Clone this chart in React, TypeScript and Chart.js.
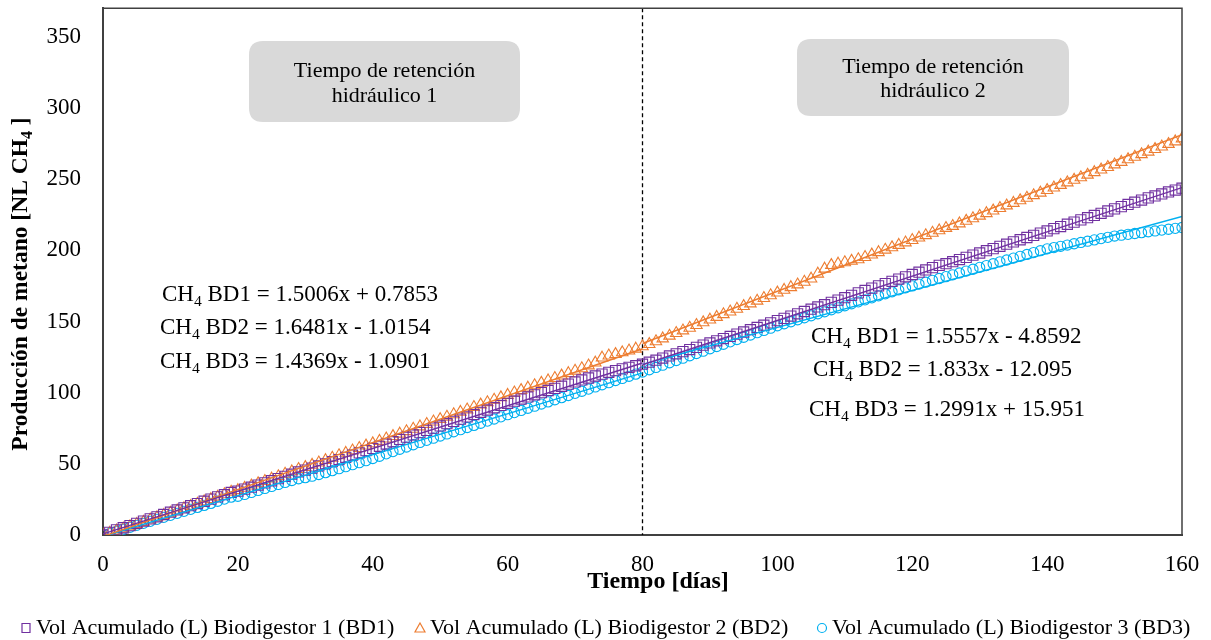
import React, { useEffect, useRef } from "react";
import { Chart, registerables } from "chart.js";

Chart.register(...registerables);

// ---------- DATA ----------
const DAYS: number[] = Array.from({ length: 161 }, (_, i) => i);

const BD1: number[] = [
  0, 1.9, 3.6, 5.1, 6.6, 8.2, 9.8, 11.3, 12.8, 14.4,
  16.0, 17.6, 19.1, 20.6, 22.1, 23.7, 25.2, 26.8, 28.3, 29.9,
  30.8, 32.2, 33.6, 35.1, 36.6, 38.1, 39.6, 41.2, 42.7, 44.3,
  45.6, 47.0, 48.5, 50.0, 51.5, 53.0, 54.6, 56.1, 57.7, 59.3,
  60.8, 62.3, 63.9, 65.5, 67.1, 68.7, 70.3, 71.9, 73.5, 75.1,
  76.6, 78.2, 79.8, 81.4, 83.0, 84.6, 86.2, 87.8, 89.4, 91.0,
  92.5, 94.0, 95.5, 97.0, 98.5, 100.0, 101.5, 103.0, 104.5, 106.0,
  107.5, 108.9, 110.3, 111.7, 113.0, 114.3, 115.5, 116.7, 117.8, 118.9,
  120.0, 121.4, 122.8, 124.3, 125.8, 127.3, 128.8, 130.3, 131.8, 133.4,
  134.9, 136.4, 138.0, 139.5, 141.1, 142.6, 144.2, 145.8, 147.4, 149.0,
  150.6, 152.2, 153.8, 155.4, 157.0, 158.6, 160.2, 161.8, 163.4, 165.0,
  166.7, 168.4, 170.1, 171.8, 173.4, 175.0, 176.6, 178.2, 179.8, 181.4,
  183.0, 184.6, 186.2, 187.8, 189.4, 190.6, 192.0, 193.5, 195.0, 196.6,
  198.1, 199.7, 201.2, 202.8, 204.3, 205.9, 207.4, 209.0, 210.5, 212.1,
  213.6, 215.2, 216.7, 218.3, 219.8, 221.4, 222.9, 224.5, 226.0, 227.6,
  229.1, 230.7, 232.2, 233.8, 235.3, 236.8, 238.2, 239.6, 241.0, 242.3,
  243.6,
];

const BD2: number[] = [
  0, 1.5, 3.0, 4.5, 6.0, 7.6, 9.1, 10.7, 12.3, 13.9,
  15.5, 17.1, 18.7, 20.3, 21.9, 23.5, 25.1, 26.8, 28.5, 30.3,
  31.4, 33.0, 34.6, 36.2, 37.8, 39.5, 41.2, 42.9, 44.6, 46.3,
  47.6, 49.2, 50.8, 52.5, 54.2, 55.9, 57.6, 59.3, 61.0, 62.7,
  64.3, 66.0, 67.7, 69.4, 71.1, 72.8, 74.5, 76.2, 77.9, 79.6,
  81.3, 83.0, 84.7, 86.4, 88.1, 89.8, 91.5, 93.2, 94.9, 96.6,
  98.3, 100.0, 101.7, 103.4, 105.1, 106.8, 108.5, 110.2, 111.9, 113.6,
  115.3, 117.0, 119.0, 121.0, 124.5, 126.0, 127.0, 128.2, 129.5, 130.8,
  132.5, 134.0, 136.0, 138.0, 139.9, 141.8, 143.6, 145.5, 147.4, 149.3,
  151.2, 153.1, 155.0, 156.9, 158.8, 160.7, 162.6, 164.5, 166.4, 168.3,
  170.2, 172.1, 174.0, 175.9, 177.8, 180.0, 183.5, 187.0, 189.5, 190.5,
  191.5, 192.5, 193.6, 195.2, 196.9, 198.6, 200.3, 202.0, 203.7, 205.4,
  207.1, 208.8, 210.5, 212.2, 213.9, 215.6, 217.0, 218.8, 220.6, 222.4,
  224.2, 226.0, 227.8, 229.6, 231.4, 233.2, 235.0, 236.8, 238.6, 240.4,
  242.2, 244.0, 245.8, 247.6, 249.4, 251.2, 253.0, 254.8, 256.6, 258.4,
  260.2, 262.0, 263.8, 265.6, 267.4, 269.2, 271.0, 272.8, 274.6, 276.4,
  278.5,
];

const BD3: number[] = [
  0, 1.2, 2.6, 4.0, 5.4, 6.8, 8.2, 9.6, 11.0, 12.4,
  13.8, 15.2, 16.6, 18.0, 19.4, 20.8, 22.2, 23.7, 25.2, 26.6,
  27.2, 28.5, 29.9, 31.3, 32.7, 34.1, 35.5, 36.9, 38.3, 39.5,
  40.3, 41.3, 42.5, 43.8, 45.2, 46.6, 48.0, 49.4, 50.8, 52.2,
  53.7, 55.3, 57.0, 58.6, 60.2, 61.8, 63.4, 65.0, 66.5, 68.0,
  69.5, 71.0, 72.5, 74.0, 75.5, 77.0, 78.5, 80.0, 81.5, 83.0,
  84.5, 86.0, 87.5, 89.0, 90.5, 92.0, 93.5, 95.0, 96.5, 98.0,
  99.5, 101.0, 102.5, 104.0, 105.5, 107.0, 108.5, 110.0, 111.5, 113.0,
  114.5, 116.1, 117.7, 119.3, 121.0, 122.6, 124.2, 125.9, 127.5, 129.1,
  130.8, 132.4, 134.0, 135.7, 137.3, 138.9, 140.5, 142.1, 143.7, 145.3,
  147.0, 148.4, 149.8, 151.2, 152.6, 154.0, 155.4, 156.8, 158.2, 159.6,
  161.0, 162.4, 163.8, 165.2, 166.6, 168.0, 169.4, 170.8, 172.2, 173.6,
  175.0, 176.3, 177.6, 178.9, 180.2, 181.5, 182.8, 184.1, 185.4, 186.7,
  188.0, 189.3, 190.6, 191.9, 193.2, 194.5, 195.8, 197.1, 198.4, 199.7,
  201.0, 201.9, 202.8, 203.7, 204.6, 205.5, 206.4, 207.3, 208.2, 209.1,
  210.0, 210.6, 211.2, 211.8, 212.4, 213.0, 213.6, 214.2, 214.8, 215.4,
  216.0,
];

const SERIES_NAMES = [
  "Vol Acumulado (L) Biodigestor 1 (BD1)",
  "Vol Acumulado (L) Biodigestor 2 (BD2)",
  "Vol Acumulado (L) Biodigestor 3 (BD3)",
];
const SERIES_TAGS = ["BD1", "BD2", "BD3"];

// linear trendlines (per hydraulic retention period)
const PERIOD_START = [0, 80];
const PERIOD_END = [80, 160];
const P1_SLOPE = [1.5006, 1.6481, 1.4369];
const P1_INTERCEPT = [0.7853, -1.0154, -1.0901];
const P2_SLOPE = [1.5557, 1.833, 1.2991];
const P2_INTERCEPT = [-4.8592, -12.095, 15.951];
const P1_EQ_TEXT = ["1.5006x + 0.7853", "1.6481x - 1.0154", "1.4369x - 1.0901"];
const P2_EQ_TEXT = ["1.5557x - 4.8592", "1.833x - 12.095", "1.2991x + 15.951"];

const X_TICKS = [0, 20, 40, 60, 80, 100, 120, 140, 160];
const Y_TICKS = [0, 50, 100, 150, 200, 250, 300, 350];
const DIVIDER_DAY = 80;

// ---------- STYLE ----------
const COLORS = ["#7030A0", "#ED7D31", "#00B0F0"];
const MARKERS = ["rect", "triangle", "circle"];
const RADII = [7.2, 6.6, 5.1];
const FONT = "'Liberation Serif', 'Times New Roman', serif";

function drawRich(
  ctx: CanvasRenderingContext2D,
  parts: [string, boolean][],
  x: number,
  y: number,
  size: number,
  weight = "normal",
  measureOnly = false
) {
  let cx = x;
  for (const [t, sub] of parts) {
    const s = sub ? size * 0.68 : size;
    ctx.font = `${weight} ${s}px ${FONT}`;
    if (!measureOnly) ctx.fillText(t, cx, sub ? y + size * 0.28 : y);
    cx += ctx.measureText(t).width;
  }
  return cx - x;
}

function roundRect(ctx: CanvasRenderingContext2D, x: number, y: number, w: number, h: number, r: number) {
  ctx.beginPath();
  ctx.moveTo(x + r, y);
  ctx.lineTo(x + w - r, y);
  ctx.quadraticCurveTo(x + w, y, x + w, y + r);
  ctx.lineTo(x + w, y + h - r);
  ctx.quadraticCurveTo(x + w, y + h, x + w - r, y + h);
  ctx.lineTo(x + r, y + h);
  ctx.quadraticCurveTo(x, y + h, x, y + h - r);
  ctx.lineTo(x, y + r);
  ctx.quadraticCurveTo(x, y, x + r, y);
  ctx.closePath();
}

const overlayPlugin = {
  id: "overlay",
  beforeDatasetsDraw(chart: any) {
    const { ctx, chartArea: a, scales } = chart;
    ctx.save();
    // annotation boxes
    ctx.fillStyle = "#D9D9D9";
    roundRect(ctx, 249, 41, 271, 81, 14);
    ctx.fill();
    roundRect(ctx, 797, 39, 272, 77, 14);
    ctx.fill();
    ctx.fillStyle = "#000";
    ctx.font = `22px ${FONT}`;
    ctx.textAlign = "center";
    ctx.textBaseline = "middle";
    ctx.fillText("Tiempo de retención", 384.5, 71);
    ctx.fillText("hidráulico 1", 384.5, 96);
    ctx.fillText("Tiempo de retención", 933, 67);
    ctx.fillText("hidráulico 2", 933, 91);
    // divider
    const px = scales.x.getPixelForValue(DIVIDER_DAY);
    ctx.strokeStyle = "#000";
    ctx.lineWidth = 1.3;
    ctx.setLineDash([4, 3]);
    ctx.beginPath();
    ctx.moveTo(px, a.top);
    ctx.lineTo(px, a.bottom);
    ctx.stroke();
    ctx.restore();
  },
  afterDraw(chart: any) {
    const { ctx, chartArea: a } = chart;
    ctx.save();
    // top & right frame
    ctx.strokeStyle = "#404040";
    ctx.lineWidth = 1.5;
    ctx.beginPath();
    ctx.moveTo(a.left, a.top);
    ctx.lineTo(a.right, a.top);
    ctx.lineTo(a.right, a.bottom);
    ctx.stroke();

    ctx.fillStyle = "#000";
    ctx.textBaseline = "middle";
    ctx.textAlign = "left";
    // equations
    const eqSize = 23;
    const leftPos = [[162, 295], [160, 328], [160, 362]];
    const rightPos = [[811, 337], [813, 370], [809, 410]];
    for (let i = 0; i < 3; i++) {
      drawRich(ctx, [["CH", false], ["4", true], [` ${SERIES_TAGS[i]} = ${P1_EQ_TEXT[i]}`, false]], leftPos[i][0], leftPos[i][1], eqSize);
      drawRich(ctx, [["CH", false], ["4", true], [` ${SERIES_TAGS[i]} = ${P2_EQ_TEXT[i]}`, false]], rightPos[i][0], rightPos[i][1], eqSize);
    }

    // x title
    ctx.textAlign = "center";
    ctx.font = `bold 24px ${FONT}`;
    ctx.fillText("Tiempo [días]", 658, 582);

    // y title (rotated, with subscript)
    ctx.textAlign = "left";
    const yParts: [string, boolean][] = [["Producción de metano [NL CH", false], ["4", true], [" ]", false]];
    const w = drawRich(ctx, yParts, 0, 0, 23.5, "bold", true);
    ctx.save();
    ctx.translate(21, 284);
    ctx.rotate(-Math.PI / 2);
    drawRich(ctx, yParts, -w / 2, 0, 23.5, "bold");
    ctx.restore();

    // legend
    const legY = 628;
    const legX = [26, 420, 822];
    for (let i = 0; i < 3; i++) {
      const mx = legX[i];
      ctx.strokeStyle = COLORS[i];
      ctx.lineWidth = 1.2;
      ctx.beginPath();
      if (i === 0) {
        ctx.rect(mx - 4, legY - 4.5, 8, 9);
      } else if (i === 1) {
        ctx.moveTo(mx, legY - 5);
        ctx.lineTo(mx + 5, legY + 4);
        ctx.lineTo(mx - 5, legY + 4);
        ctx.closePath();
      } else {
        ctx.arc(mx, legY, 4.5, 0, Math.PI * 2);
      }
      ctx.stroke();
      ctx.fillStyle = "#000";
      ctx.font = `22px ${FONT}`;
      ctx.fillText(SERIES_NAMES[i], mx + 10, legY);
    }
    ctx.restore();
  },
};

export default function App() {
  const ref = useRef<HTMLCanvasElement | null>(null);

  useEffect(() => {
    if (!ref.current) return;
    const series = [BD1, BD2, BD3];
    const datasets: any[] = [];
    for (let i = 0; i < 3; i++) {
      datasets.push({
        label: SERIES_NAMES[i],
        data: DAYS.map((d, k) => ({ x: d, y: series[i][k] })),
        showLine: false,
        pointStyle: MARKERS[i],
        pointRadius: RADII[i],
        pointBorderWidth: 1.1,
        borderColor: COLORS[i],
        backgroundColor: "rgba(0,0,0,0)",
        pointBackgroundColor: "rgba(0,0,0,0)",
        order: 2 + i,
      });
    }
    for (let i = 0; i < 3; i++) {
      const slopes = [P1_SLOPE[i], P2_SLOPE[i]];
      const ints = [P1_INTERCEPT[i], P2_INTERCEPT[i]];
      for (let p = 0; p < 2; p++) {
        datasets.push({
          label: `trend-${i}-${p}`,
          data: [PERIOD_START[p], PERIOD_END[p]].map((d) => ({ x: d, y: slopes[p] * d + ints[p] })),
          showLine: true,
          pointRadius: 0,
          borderColor: COLORS[i],
          borderWidth: 1.4,
          order: 0,
        });
      }
    }

    const chart = new Chart(ref.current, {
      type: "scatter",
      data: { datasets },
      options: {
        animation: false,
        responsive: false,
        maintainAspectRatio: false,
        layout: { padding: { left: 0, right: 29, top: 4, bottom: 0 } },
        plugins: { legend: { display: false }, tooltip: { enabled: false } },
        scales: {
          x: {
            type: "linear",
            min: 0,
            max: 160,
            afterBuildTicks: (s: any) => {
              s.ticks = X_TICKS.map((v) => ({ value: v }));
            },
            afterFit: (s: any) => {
              s.height = 105;
              s.paddingLeft = 0;
              s.paddingRight = 0;
            },
            grid: { display: false },
            border: { display: true, color: "#404040", width: 2 },
            ticks: {
              font: { family: FONT, size: 23 },
              color: "#000",
              padding: 8,
              maxRotation: 0,
              autoSkip: false,
            },
          },
          y: {
            type: "linear",
            min: 0,
            max: 370,
            afterBuildTicks: (s: any) => {
              s.ticks = Y_TICKS.map((v) => ({ value: v }));
            },
            afterFit: (s: any) => {
              s.width = 103;
              s.paddingTop = 0;
              s.paddingBottom = 0;
            },
            grid: { display: false },
            border: { display: true, color: "#404040", width: 2 },
            ticks: {
              font: { family: FONT, size: 23 },
              color: "#000",
              padding: 14,
              autoSkip: false,
            },
          },
        },
      },
      plugins: [overlayPlugin],
    });
    return () => chart.destroy();
  }, []);

  return (
    <div style={{ position: "absolute", left: 0, top: 0, width: 1211, height: 640, background: "#fff" }}>
      <canvas ref={ref} width={1211} height={640} style={{ width: 1211, height: 640 }} />
    </div>
  );
}
